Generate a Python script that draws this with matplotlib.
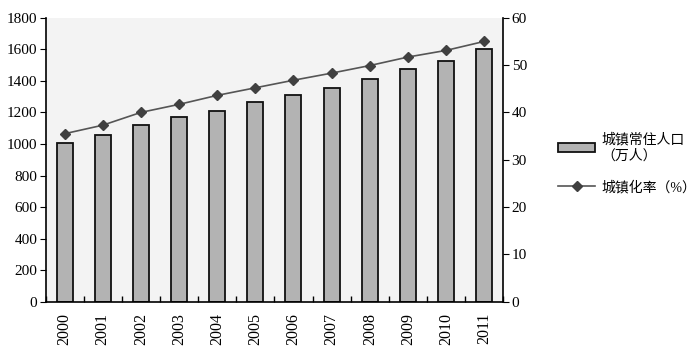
import matplotlib
matplotlib.use("Agg")
import matplotlib.pyplot as plt
import numpy as np
from matplotlib.lines import Line2D
from matplotlib.patches import Patch

plt.rcParams['font.family'] = ['Liberation Serif', 'Noto Sans CJK SC']

years = ['2000', '2001', '2002', '2003', '2004', '2005',
         '2006', '2007', '2008', '2009', '2010', '2011']
population = [1009, 1055, 1123, 1169, 1211, 1264, 1310, 1357, 1410, 1473, 1525, 1599]
rate = [35.5, 37.3, 40.0, 41.7, 43.6, 45.2, 46.8, 48.3, 49.9, 51.7, 53.1, 55.0]

fig = plt.figure(figsize=(7.0, 3.55), dpi=100)
ax = fig.add_axes([0.065, 0.15, 0.654, 0.80])
ax.set_facecolor('#f3f3f3')

x = np.arange(len(years))
ax.bar(x, population, width=0.42, color='#b3b3b3', edgecolor='#111111', linewidth=1.3, zorder=2)
ax.set_xlim(-0.5, len(years) - 0.5)
ax.set_ylim(0, 1800)
ax.set_yticks(range(0, 1801, 200))
ax.set_xticks(x)
ax.set_xticklabels(years, rotation=90, fontsize=11.5)
ax.tick_params(axis='x', length=0, pad=8)
ax.set_xticks(np.arange(-0.5, len(years)), minor=True)
ax.tick_params(axis='x', which='minor', direction='in', length=4, width=1)
ax.tick_params(axis='y', direction='out', length=4, labelsize=11, pad=2)
for s in ['top', 'right']:
    ax.spines[s].set_visible(False)
ax.spines['left'].set_linewidth(1.2)
ax.spines['bottom'].set_linewidth(1.2)

ax2 = ax.twinx()
ax2.plot(x, rate, color='#555555', linewidth=1.2, marker='D', markersize=5,
         markerfacecolor='#404040', markeredgecolor='#404040', zorder=3)
ax2.set_ylim(0, 60)
ax2.set_yticks(range(0, 61, 10))
ax2.tick_params(axis='y', direction='out', length=4, labelsize=11, pad=2)
for s in ['top', 'left', 'bottom']:
    ax2.spines[s].set_visible(False)
ax2.spines['right'].set_linewidth(1.2)

handles = [Patch(facecolor='#b3b3b3', edgecolor='#111111', linewidth=1.3),
           Line2D([0], [0], color='#555555', linewidth=1.2, marker='D', markersize=5,
                  markerfacecolor='#404040', markeredgecolor='#404040')]
labels = ['城镇常住人口\n（万人）', '城镇化率（%）']
fig.legend(handles, labels, loc='upper left', bbox_to_anchor=(0.797, 0.625),
           frameon=False, fontsize=10, handlelength=2.7, handleheight=0.6,
           labelspacing=1.3, handletextpad=0.4, borderaxespad=0, borderpad=0)

fig.savefig('out.png', dpi=100)
